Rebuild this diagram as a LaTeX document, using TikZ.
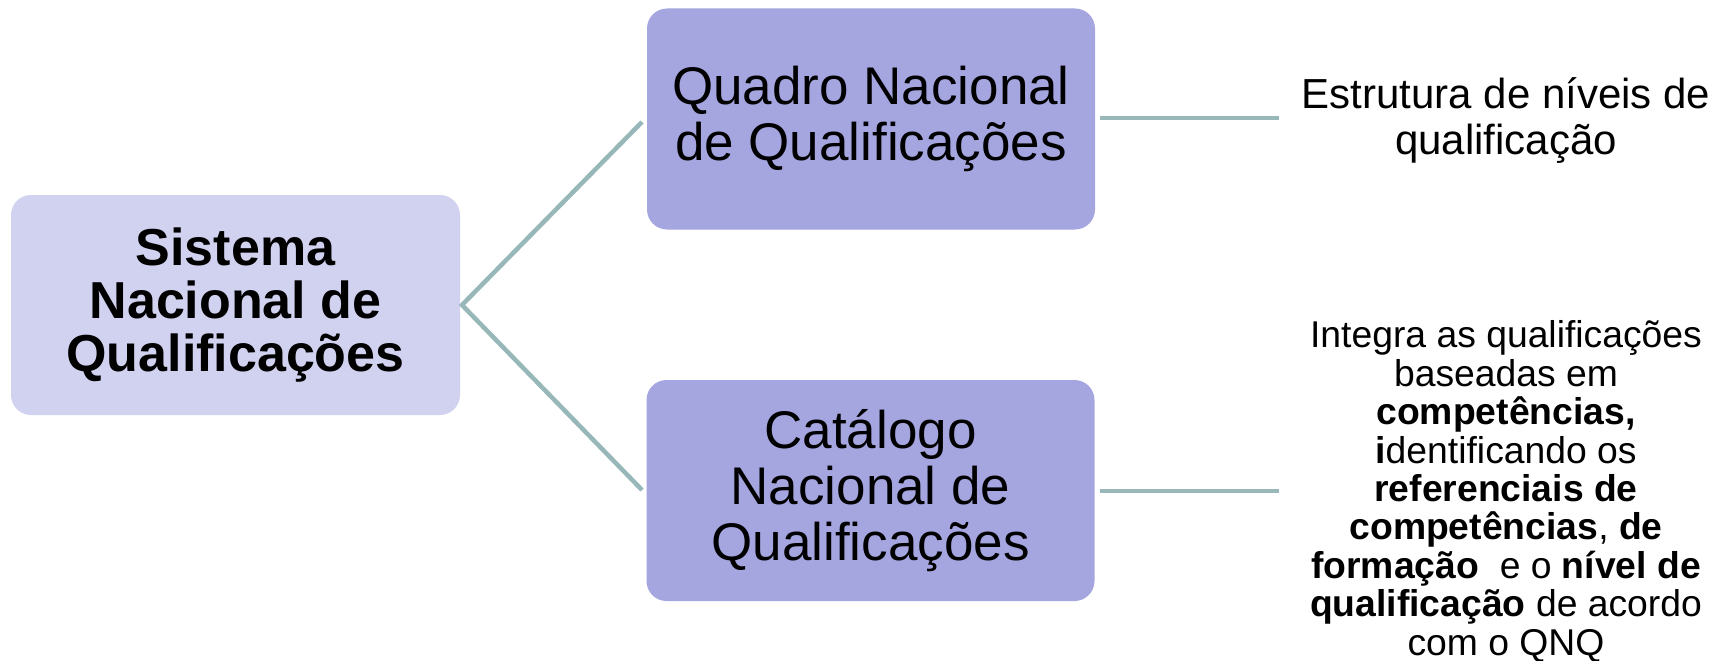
\documentclass[tikz,border=0pt]{standalone}
\usepackage{fontspec}
\setmainfont{Liberation Sans}
\definecolor{lboxc}{HTML}{D1D2F0}
\definecolor{mboxc}{HTML}{A5A5E0}
\definecolor{connc}{HTML}{97B7B9}
\begin{document}
\begin{tikzpicture}[x=1pt,y=-1pt,
  lbox/.style={fill=lboxc, rounded corners=20pt, minimum width=449pt, minimum height=220pt, align=center, inner sep=0pt, font=\fontsize{52}{53}\selectfont\bfseries},
  mbox/.style={fill=mboxc, rounded corners=20pt, minimum width=448pt, minimum height=221pt, align=center, inner sep=0pt, font=\fontsize{53}{56}\selectfont},
  rtext/.style={align=center, inner sep=0pt, font=\fontsize{42}{46}\selectfont},
  rtextsmall/.style={align=center, inner sep=0pt, font=\fontsize{37.3}{38.4}\selectfont},
  conn/.style={draw=connc, line width=4.5pt}
]
\useasboundingbox (0,0) rectangle (1729,661);
\node[lbox] (a) at (235.5,305) {Sistema\\Nacional de\\Qualificações};
\node[mbox] (b) at (871,119) {Quadro Nacional\\de Qualificações};
\node[mbox] (c) at (870.5,490.5) {Catálogo\\Nacional de\\Qualificações};
\node[rtext] (d) at (1506,120) {Estrutura de níveis de\\qualificação};
\node[rtextsmall] (e) at (1506,491.5) {Integra as qualificações\\baseadas em\\\textbf{competências,}\\\textbf{i}dentificando os\\\textbf{referenciais de}\\\textbf{competências}, \textbf{de}\\\textbf{formação}~ e o \textbf{nível de}\\\textbf{qualificação} de acordo\\com o QNQ};
\coordinate (apex) at (462,305);
\coordinate (bin) at (642,122);
\coordinate (cin) at (642,490);
\coordinate (dend) at (1279,118);
\coordinate (eend) at (1279,491);
\draw[conn] (bin) -- (apex) -- (cin);
\draw[conn] (b.east |- dend) ++(5,0) -- (dend);
\draw[conn] (c.east |- eend) ++(5,0) -- (eend);
\end{tikzpicture}
\end{document}
